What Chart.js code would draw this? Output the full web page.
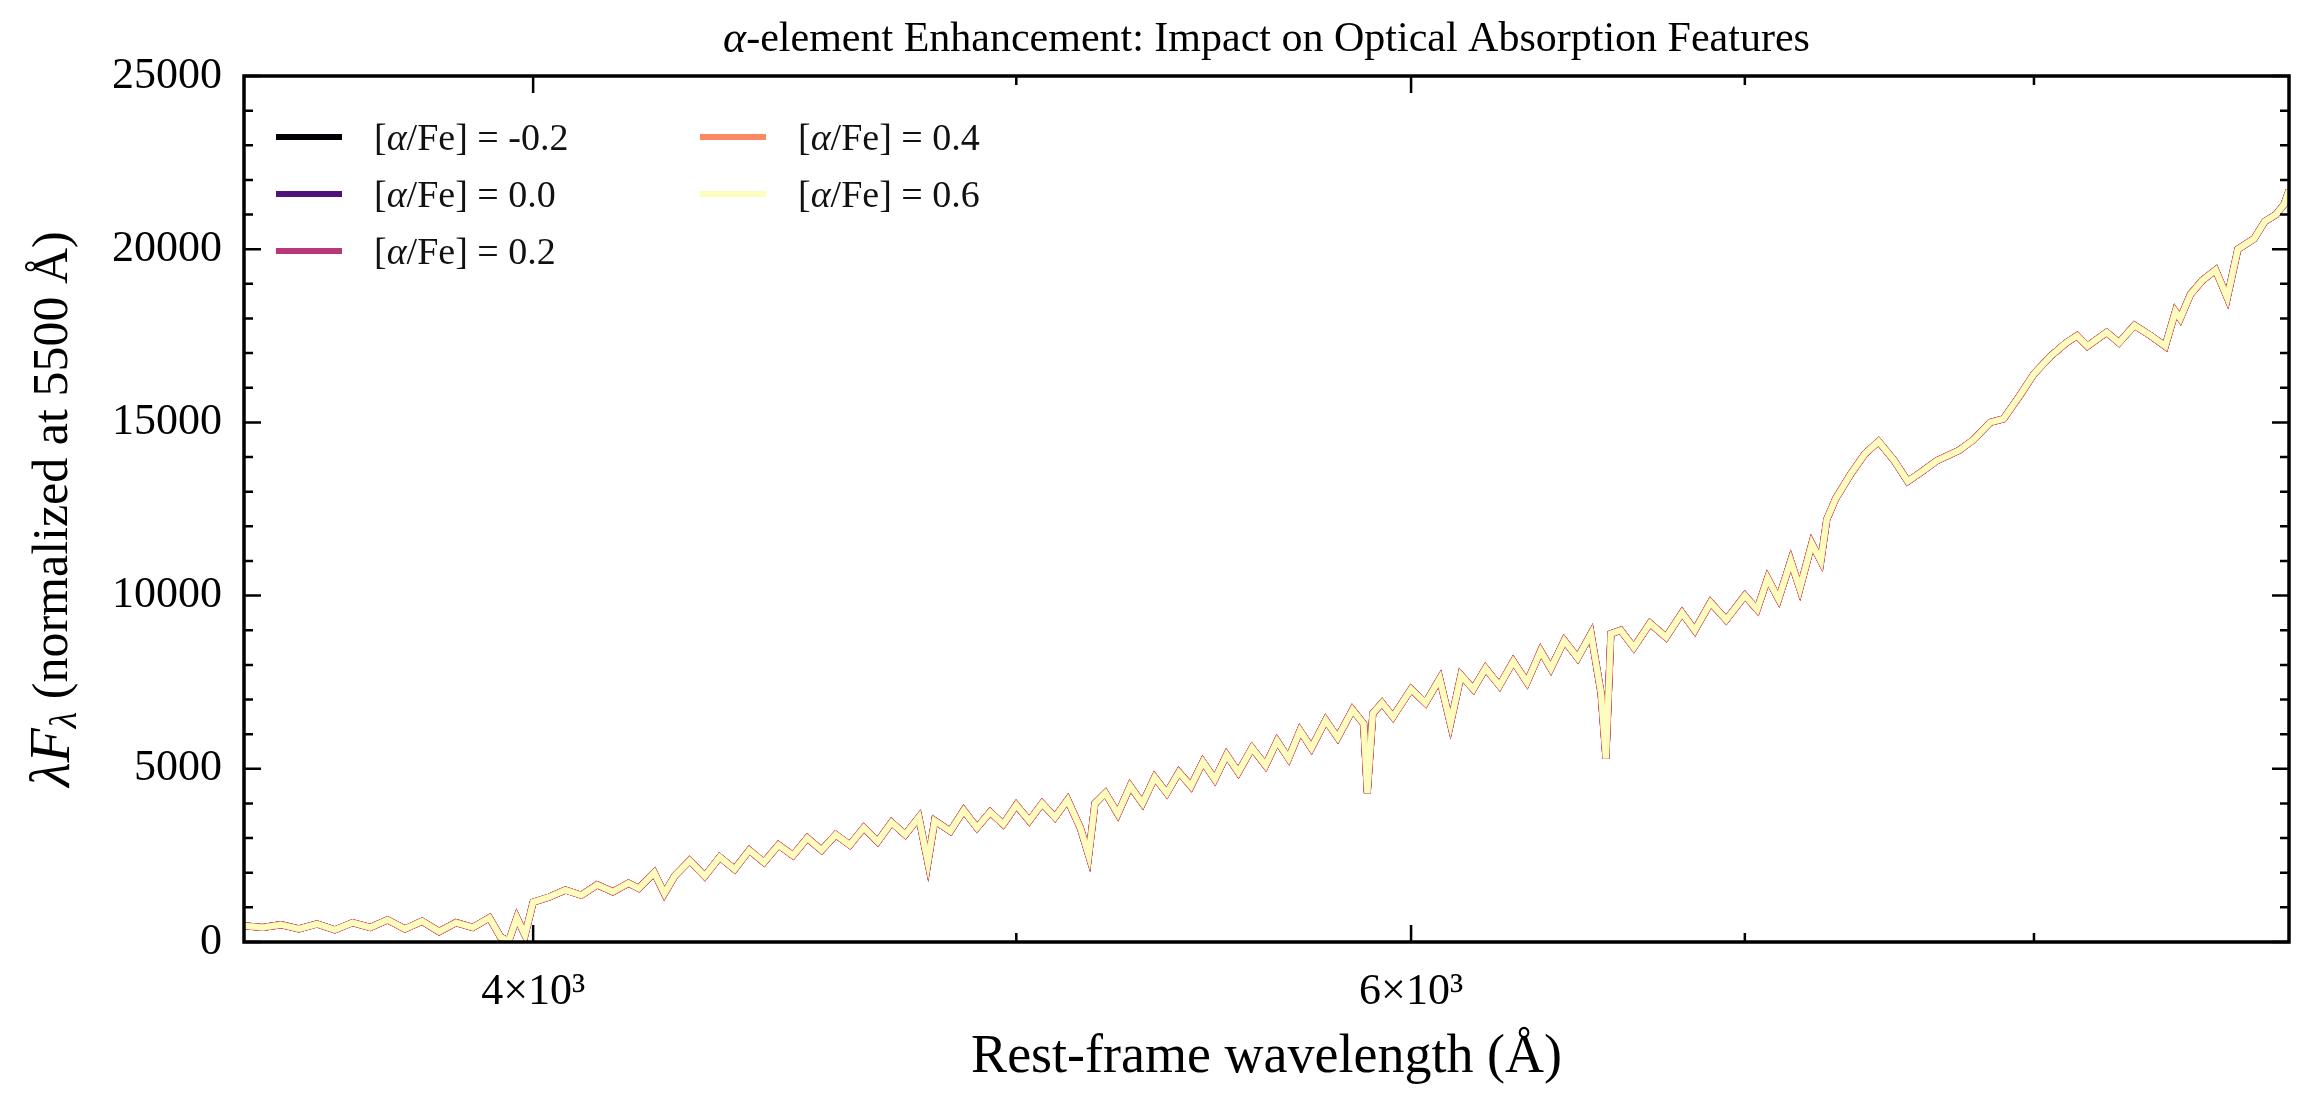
<!DOCTYPE html>
<html>
<head>
<meta charset="utf-8">
<script src="https://cdn.jsdelivr.net/npm/chart.js@4.4.1/dist/chart.umd.min.js"></script>
<style>
  body { margin: 0; background: #fff; }
  #wrap { position: relative; width: 2308px; height: 1105px; }
  #legend { position: absolute; left: 276px; top: 108px; font-family: "Liberation Serif", serif; font-size: 38px; color: #111;
    display: grid; grid-template-columns: 424px 400px; grid-auto-flow: column; grid-template-rows: repeat(3, 57px); }
  .item { display: flex; align-items: center; }
  .swatch { width: 66px; height: 6px; margin-right: 32px; }
</style>
</head>
<body>
<div id="wrap">
  <canvas id="chart" width="2308" height="1105"></canvas>
  <div id="legend"></div>
</div>
<script>
// rest-frame wavelength (Angstrom)
const wavelength = [3500,3530,3560,3590,3620,3650,3680,3710,3740,3770,3800,3830,3860,3890,3920,3940,3955,3970,3985,
  4000,4030,4060,4090,4120,4150,4180,4200,4230,4250,4270,4300,4330,4360,4390,4420,4450,4480,4510,4540,4570,4600,4630,
  4660,4690,4720,4750,4780,4800,4815,4850,4880,4910,4940,4970,5000,5030,5060,5090,5120,5150,5170,5185,5210,5240,5270,
  5300,5330,5360,5390,5420,5450,5480,5510,5540,5575,5610,5640,5670,5700,5730,5768,5800,5840,5870,5880,5895,5920,5950,
  6000,6040,6080,6110,6140,6175,6210,6250,6290,6330,6370,6400,6440,6480,6520,6550,6565,6580,6610,6650,6700,6750,6800,
  6840,6890,6940,7000,7040,7074,7110,7150,7180,7220,7250,7270,7300,7350,7400,7446,7500,7547,7600,7650,7729,7780,7840,
  7888,7950,8000,8060,8120,8161,8200,8273,8320,8380,8444,8500,8540,8559,8600,8647,8700,8747,8790,8856,8900,8946,8980,9000];
// lambda F_lambda, the five curves overlap to within the line width
const flux = [470,420,500,380,520,350,560,420,640,380,600,300,560,420,700,150,20,700,200,
  1150,1300,1500,1350,1650,1450,1700,1550,2000,1400,1900,2350,1900,2450,2100,2650,2300,2800,2500,3000,2650,3100,2800,
  3300,2900,3450,3100,3600,2300,3500,3200,3800,3300,3750,3400,3950,3500,4000,3600,4100,3300,2500,4000,4300,3700,4500,
  4000,4750,4300,4900,4500,5200,4700,5400,4900,5600,5100,5800,5300,6100,5600,6400,5900,6700,6300,4300,6600,6900,6500,
  7300,6900,7600,6300,7700,7300,7900,7400,8100,7500,8400,7900,8700,8200,8900,7200,5300,8900,9000,8500,9200,8800,9500,
  9000,9800,9300,10000,9600,10500,9900,11000,10200,11500,11000,12200,12800,13500,14100,14450,13900,13300,13600,13900,14200,14500,15000,
  15100,15800,16400,16900,17300,17500,17200,17600,17300,17800,17500,17200,18200,18000,18700,19100,19400,18600,20000,20300,20800,21000,21300,21700];
const seriesLabels = ['-0.2', '0.0', '0.2', '0.4', '0.6'];
const seriesColors = ['#000004', '#51127c', '#b73779', '#fc8961', '#fcfdbf'];
const xMajor = [4000, 6000];
const xMinor = [5000, 7000, 8000];

const legend = document.getElementById('legend');
seriesLabels.forEach((l, i) => {
  legend.innerHTML += `<div class="item"><span class="swatch" style="background:${seriesColors[i]}"></span>[<i>α</i>/Fe] = ${l}</div>`;
});

const serif = '"Liberation Serif", "DejaVu Serif", serif';

// frame, inward ticks, title and axis titles
const decor = {
  id: 'decor',
  afterDraw(chart) {
    const ctx = chart.ctx, a = chart.chartArea, x = chart.scales.x, y = chart.scales.y;
    ctx.save();
    ctx.strokeStyle = '#000';
    ctx.lineWidth = 2.5;
    const tick = (px, len, vert) => {
      ctx.beginPath();
      if (vert) {
        ctx.moveTo(px, a.bottom); ctx.lineTo(px, a.bottom - len);
        ctx.moveTo(px, a.top); ctx.lineTo(px, a.top + len);
      } else {
        ctx.moveTo(a.left, px); ctx.lineTo(a.left + len, px);
        ctx.moveTo(a.right, px); ctx.lineTo(a.right - len, px);
      }
      ctx.stroke();
    };
    xMajor.forEach(v => tick(x.getPixelForValue(v), 17, true));
    xMinor.forEach(v => tick(x.getPixelForValue(v), 9, true));
    for (let v = 0; v <= 25000; v += 1000) tick(y.getPixelForValue(v), v % 5000 ? 9 : 17, false);
    ctx.lineWidth = 3.5;
    ctx.strokeRect(a.left, a.top, a.right - a.left, a.bottom - a.top);

    ctx.fillStyle = '#000';
    ctx.textBaseline = 'middle';
    // title
    const cx = (a.left + a.right) / 2;
    ctx.font = `italic 44px ${serif}`;
    const t1 = 'α', t2 = '-element Enhancement: Impact on Optical Absorption Features';
    const w1 = ctx.measureText(t1).width;
    ctx.font = `42px ${serif}`;
    const w2 = ctx.measureText(t2).width;
    let sx = cx - (w1 + w2) / 2;
    ctx.textAlign = 'left';
    ctx.font = `italic 44px ${serif}`; ctx.fillText(t1, sx, 40);
    ctx.font = `42px ${serif}`; ctx.fillText(t2, sx + w1, 40);
    // x title
    ctx.textAlign = 'center';
    ctx.font = `54px ${serif}`;
    ctx.fillText('Rest-frame wavelength (Å)', cx, 1058);
    // y title
    ctx.translate(54, (a.top + a.bottom) / 2);
    ctx.rotate(-Math.PI / 2);
    const parts = [['λ', `italic 56px ${serif}`, 0], ['F', `italic 56px ${serif}`, 0], ['λ', `italic 38px ${serif}`, 12],
      [' (normalized at 5500 Å)', `50px ${serif}`, 0]];
    let total = 0;
    parts.forEach(p => { ctx.font = p[1]; total += ctx.measureText(p[0]).width; });
    let px = -total / 2;
    ctx.textAlign = 'left';
    parts.forEach(p => { ctx.font = p[1]; ctx.fillText(p[0], px, p[2]); px += ctx.measureText(p[0]).width; });
    ctx.restore();
  }
};

new Chart(document.getElementById('chart'), {
  type: 'line',
  data: {
    datasets: seriesLabels.map((l, i) => ({
      label: '[α/Fe] = ' + l,
      data: wavelength.map((w, j) => ({ x: w, y: flux[j] })),
      borderColor: seriesColors[i],
      borderWidth: i === 4 ? 6 : 7,
      order: seriesLabels.length - i,
      pointRadius: 0,
      tension: 0
    }))
  },
  plugins: [decor],
  options: {
    responsive: false,
    animation: false,
    layout: { padding: { top: 76, right: 19, left: 0, bottom: 0 } },
    plugins: { legend: { display: false }, tooltip: { enabled: false } },
    scales: {
      x: {
        type: 'logarithmic', min: 3500, max: 9000,
        afterBuildTicks: s => { s.ticks = xMajor.map(v => ({ value: v })); },
        afterFit: s => { s.height = 163; },
        grid: { display: false },
        border: { display: false },
        ticks: {
          padding: 16, color: '#000', font: { family: serif, size: 44 },
          maxRotation: 0, autoSkip: false,
          callback: v => (v / 1000) + '×10³'
        }
      },
      y: {
        min: 0, max: 25000,
        afterFit: s => { s.width = 244; },
        grid: { display: false },
        border: { display: false },
        ticks: { stepSize: 5000, padding: 14, color: '#000', font: { family: serif, size: 44 },
          callback: v => String(v) }
      }
    }
  }
});
</script>
</body>
</html>
